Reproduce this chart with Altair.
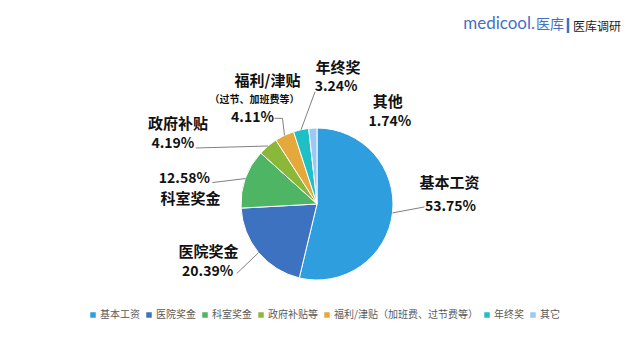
import math
import altair as alt
import pandas as pd

# ---- data ----
categories = ["基本工资", "医院奖金", "科室奖金", "政府补贴", "福利/津贴", "年终奖", "其他"]
legend_labels = ["基本工资", "医院奖金", "科室奖金", "政府补贴等",
                 "福利/津贴（加班费、过节费等）", "年终奖", "其它"]
values = [53.75, 20.39, 12.58, 4.19, 4.11, 3.24, 1.74]
sub_labels = ["", "", "", "", "（过节、加班费等）", "", ""]

# ---- style / layout ----
colors = ["#2E9EDE", "#3D72C0", "#4DB563", "#8CB83A", "#E5A83A", "#1EC0C6", "#9DC8F2"]
CX, CY, R = 309, 196, 76
name_off = [(57, -30), (-50, -1), (-55, 20), (-90, -22), (-17, -54), (37, -62), (75, -26)]
pct_off = [(58, -6), (-51, 19), (-61, 0), (-95, -2), (-32, -17), (35, -43), (77, -6)]
sub_off = [None, None, None, None, (-30, -35), None, None]
leader = [[(0, 0), (32, -6)], [(0, 0), (-22, 21)], [(0, 0), (-33, 4)], [(0, 0), (-72, 2)],
          [(0, 0), (-2, -17), (-10, -17)], [(0, 0), (14, -38)], []]
FONT = "Noto Sans CJK SC"

total = sum(values)
df = pd.DataFrame({"cat": categories, "legend": legend_labels, "value": values,
                   "order": list(range(len(values)))})

# edge points of slice mid-angles
edges = []
cum = 0.0
for v in values:
    mid = (cum + v / 2) / total * 2 * math.pi
    edges.append((CX + R * math.sin(mid), CY - R * math.cos(mid)))
    cum += v

text_rows = []
line_rows = []
for i, c in enumerate(categories):
    ex, ey = edges[i]
    text_rows.append({"x": ex + name_off[i][0], "y": ey + name_off[i][1], "t": c, "fs": 15})
    text_rows.append({"x": ex + pct_off[i][0], "y": ey + pct_off[i][1],
                      "t": f"{values[i]:.2f}%", "fs": 14})
    if sub_labels[i]:
        text_rows.append({"x": ex + sub_off[i][0], "y": ey + sub_off[i][1],
                          "t": sub_labels[i], "fs": 10})
    for j, (dx, dy) in enumerate(leader[i]):
        line_rows.append({"cat": c, "seq": j, "x": ex + dx, "y": ey + dy})

tdf = pd.DataFrame(text_rows)
ldf = pd.DataFrame(line_rows)

pie = alt.Chart(df).mark_arc(outerRadius=R, stroke="white", strokeWidth=1).encode(
    theta=alt.Theta("value:Q", stack=True),
    order=alt.Order("order:Q"),
    color=alt.Color("legend:N", sort=legend_labels,
                    scale=alt.Scale(domain=legend_labels, range=colors),
                    legend=alt.Legend(title=None, orient="none", direction="horizontal",
                                      columns=7, legendX=80, legendY=302,
                                      symbolType="square", symbolSize=30,
                                      symbolStrokeWidth=0, labelFont=FONT,
                                      labelFontSize=10, labelColor="#595959",
                                      labelOffset=2, columnPadding=4)),
    x=alt.value(CX), y=alt.value(CY),
)

lines = alt.Chart(ldf).mark_line(color="#808080", strokeWidth=1).encode(
    x=alt.X("x:Q", scale=None), y=alt.Y("y:Q", scale=None),
    detail="cat:N", order="seq:Q",
)

labels = alt.Chart(tdf).mark_text(font=FONT, fontWeight="bold", color="#111111",
                                  align="center", baseline="middle").encode(
    x=alt.X("x:Q", scale=None), y=alt.Y("y:Q", scale=None),
    text="t:N", size=alt.Size("fs:Q", scale=None),
)

logo1 = alt.Chart(pd.DataFrame({"t": ["medicool."]})).mark_text(
    font="Lato", fontSize=17, color="#4470C4", align="right", baseline="middle"
).encode(x=alt.value(527), y=alt.value(16), text="t:N")
logo2 = alt.Chart(pd.DataFrame({"t": ["医库"]})).mark_text(
    font=FONT, fontSize=14, color="#4470C4", align="left", baseline="middle"
).encode(x=alt.value(528), y=alt.value(17), text="t:N")
logo_bar = alt.Chart(pd.DataFrame({"t": [1]})).mark_rule(color="#4470C4", strokeWidth=2.5).encode(
    x=alt.value(560), y=alt.value(10), y2=alt.value(25))
logo3 = alt.Chart(pd.DataFrame({"t": ["医库调研"]})).mark_text(
    font=FONT, fontSize=12, color="#222222", align="left", baseline="middle"
).encode(x=alt.value(565), y=alt.value(19), text="t:N")

chart = alt.layer(pie, lines, labels, logo1, logo2, logo_bar, logo3).properties(
    width=624, height=344, padding=0, background="white"
).configure_view(stroke=None)

chart.save("out.html", embed_options={"renderer": "svg", "actions": False})
